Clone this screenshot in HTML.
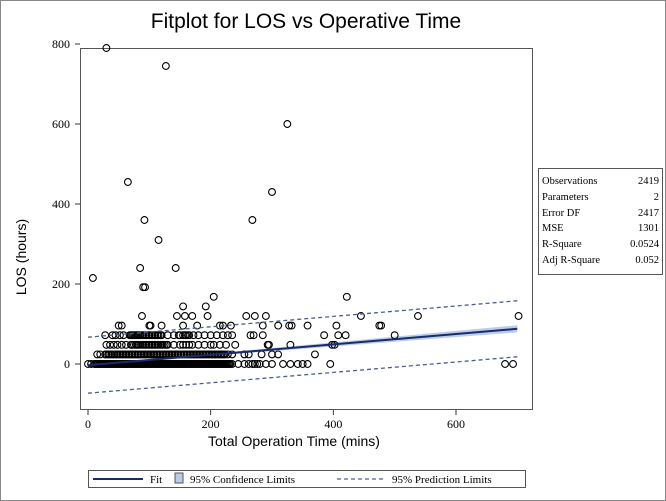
<!DOCTYPE html>
<html><head><meta charset="utf-8"><style>
body{margin:0;background:#fff;}
svg{display:block;font-family:"Liberation Sans",sans-serif;}
.ser{font-family:"Liberation Serif",serif;}
</style></head><body>
<svg width="666" height="501">
<rect x="0.5" y="0.5" width="665" height="500" fill="#fff" stroke="#888"/>
<text x="306" y="28" font-size="21" text-anchor="middle">Fitplot for LOS vs Operative Time</text>
<g id="plot"></g>
<text transform="translate(26,257) rotate(-90)" font-size="14" text-anchor="middle">LOS (hours)</text>
<text x="294" y="446" font-size="14" text-anchor="middle">Total Operation Time (mins)</text>
<g class="ser" font-size="10.5">
<rect x="538.5" y="168.5" width="124" height="106" fill="#fff" stroke="#555"/>
<text x="542" y="184">Observations</text><text x="659" y="184" text-anchor="end">2419</text>
<text x="542" y="200">Parameters</text><text x="659" y="200" text-anchor="end">2</text>
<text x="542" y="216">Error DF</text><text x="659" y="216" text-anchor="end">2417</text>
<text x="542" y="231">MSE</text><text x="659" y="231" text-anchor="end">1301</text>
<text x="542" y="247">R-Square</text><text x="659" y="247" text-anchor="end">0.0524</text>
<text x="542" y="263">Adj R-Square</text><text x="659" y="263" text-anchor="end">0.052</text>
</g>
<g class="ser" font-size="11">
<rect x="88.5" y="470.5" width="437" height="17" fill="#fff" stroke="#555"/>
<line x1="93" y1="479" x2="143" y2="479" stroke="#1a2a6a" stroke-width="2"/>
<text x="150" y="483">Fit</text>
<rect x="175" y="473" width="8" height="10" fill="#b8cce6" stroke="#555"/>
<text x="190" y="483">95% Confidence Limits</text>
<line x1="337" y1="479" x2="385" y2="479" stroke="#4a5f8f" stroke-width="1.3" stroke-dasharray="4,3"/>
<text x="392" y="483">95% Prediction Limits</text>
</g>
</svg>
<script>
const xTicks=[0,200,400,600];
const yTicks=[0,200,400,600,800];
const fitIntercept=-3, fitSlope=0.13, predHalf=70, confHalfMax=7;
const outX=[30,127,325,65,300,92,268,115,85,143,8,90,93,205,422,155,192,88,145,158,170,195,258,272,290,445,538,702];
const outY=[790,745,600,455,430,360,360,310,240,240,215,192,192,168,168,144,144,120,120,120,120,120,120,120,120,120,120,120];
const row96=[50,55,100,102,120,155,178,215,220,233,285,310,328,332,358,405,475,478];
const row72=[28,40,45,52,58,68,72,76,80,85,90,95,100,105,110,115,120,130,140,148,155,160,165,172,180,190,200,210,220,228,235,265,270,285,385,408,420,500];
const row48=[30,36,42,48,55,62,70,75,80,85,90,95,100,105,110,115,120,125,130,140,150,155,160,165,170,180,190,200,205,215,225,240,293,295,330,398,402];
const row24=[15,20,28,33,38,43,48,53,58,63,68,73,78,83,88,93,98,103,108,113,118,123,128,133,138,143,148,153,158,163,168,173,178,183,188,193,198,203,208,213,218,223,228,235,255,262,283,300,310,370];
const row24b=[30,35,40,46,51,56,61,66,71,76,81,86,91,96,101,106,111,116,121,126,131,136,141,146,151,156,161,166,171,176,181,186,191,196,201,206,211,216,221];
const row0=[0,5,10,14,18,22,26,30,34,38,42,46,50,54,58,62,66,70,74,78,82,86,90,94,98,102,106,110,114,118,122,126,130,134,138,142,146,150,154,158,162,166,170,174,178,182,186,190,194,198,202,206,210,214,218,222,226,230,235,245,255,262,268,272,276,280,290,300,318,330,342,350,358,395,680,693];
const row0b=[12,16,20,24,28,32,36,40,44,48,52,56,60,64,68,72,76,80,84,88,92,96,100,104,108,112,116,120,124,128,132,136,140,144,148,152,156,160,164,168,172,176,180,184,188,192,196,200,204,208,212,216,220,224,228,232];
const row72b=[70,74,78,82,88,93,98,103,108,113,118,150,158,163];
const row48b=[72,78,82,88,93,98,103,108,113,118,122,128];

const X0=88,XS=(456-88)/600,Y0=364,YS=(364-284)/200;
const sx=v=>X0+v*XS, sy=v=>Y0-v*YS;
const NS="http://www.w3.org/2000/svg";
const g=document.getElementById('plot');
function mk(t,a,p){const e=document.createElementNS(NS,t);for(const k in a)e.setAttribute(k,a[k]);(p||g).appendChild(e);return e;}

mk('rect',{x:80.5,y:48.5,width:452,height:361,fill:'#fff',stroke:'#555'});
xTicks.forEach(v=>{
 const l=mk('line',{x1:sx(v),x2:sx(v),y1:410,y2:415,stroke:'#333'});
 
 
 const t=mk('text',{x:sx(v),y:428,'font-size':12,'text-anchor':'middle','class':'ser'});
 t.textContent=v;
 
 
});
yTicks.forEach(v=>{
 const l=mk('line',{x1:75,x2:80,y1:sy(v),y2:sy(v),stroke:'#333'});
 
 
 const t=mk('text',{x:70,y:sy(v)+4,'font-size':12,'text-anchor':'end','class':'ser'});
 t.textContent=v;
 
 
});
const xa=0,xb=700;
const f=v=>fitIntercept+fitSlope*v;
const cw=v=>2+confHalfMax*Math.abs(v-150)/550;
let d='';
[0,100,200,300,400,500,600,700].forEach((v,i)=>d+=(i?'L':'M')+sx(v)+','+sy(f(v)+cw(v)));
[700,600,500,400,300,200,100,0].forEach(v=>d+='L'+sx(v)+','+sy(f(v)-cw(v)));
const band=mk('path',{d:d+'Z',fill:'#a9c1e3',opacity:0.8});


const pts=g.appendChild(document.createElementNS(NS,'g'));


function pt(x,y){const c=mk('circle',{cx:sx(x),cy:sy(y),r:3.4,fill:'none',stroke:'#000','stroke-width':1.1},pts);
 
 }
outX.forEach((x,i)=>pt(x,outY[i]));
row96.forEach(x=>pt(x,96));row72.forEach(x=>pt(x,72));row48.forEach(x=>pt(x,48));row24.forEach(x=>pt(x,24));row0.forEach(x=>pt(x,0));
row24b.forEach(x=>pt(x,24));row0b.forEach(x=>pt(x,0));row72b.forEach(x=>pt(x,72));row48b.forEach(x=>pt(x,48));
[predHalf,-predHalf].forEach(o=>{
 const l=mk('line',{x1:sx(xa),y1:sy(f(xa)+o),x2:sx(xb),y2:sy(f(xb)+o),stroke:'#4a5f8f','stroke-width':1.3,'stroke-dasharray':'4,3'});
 
 
});
const fl=mk('line',{x1:sx(xa),y1:sy(f(xa)),x2:sx(xb),y2:sy(f(xb)),stroke:'#1a2a6a','stroke-width':2});


</script>
</body></html>
